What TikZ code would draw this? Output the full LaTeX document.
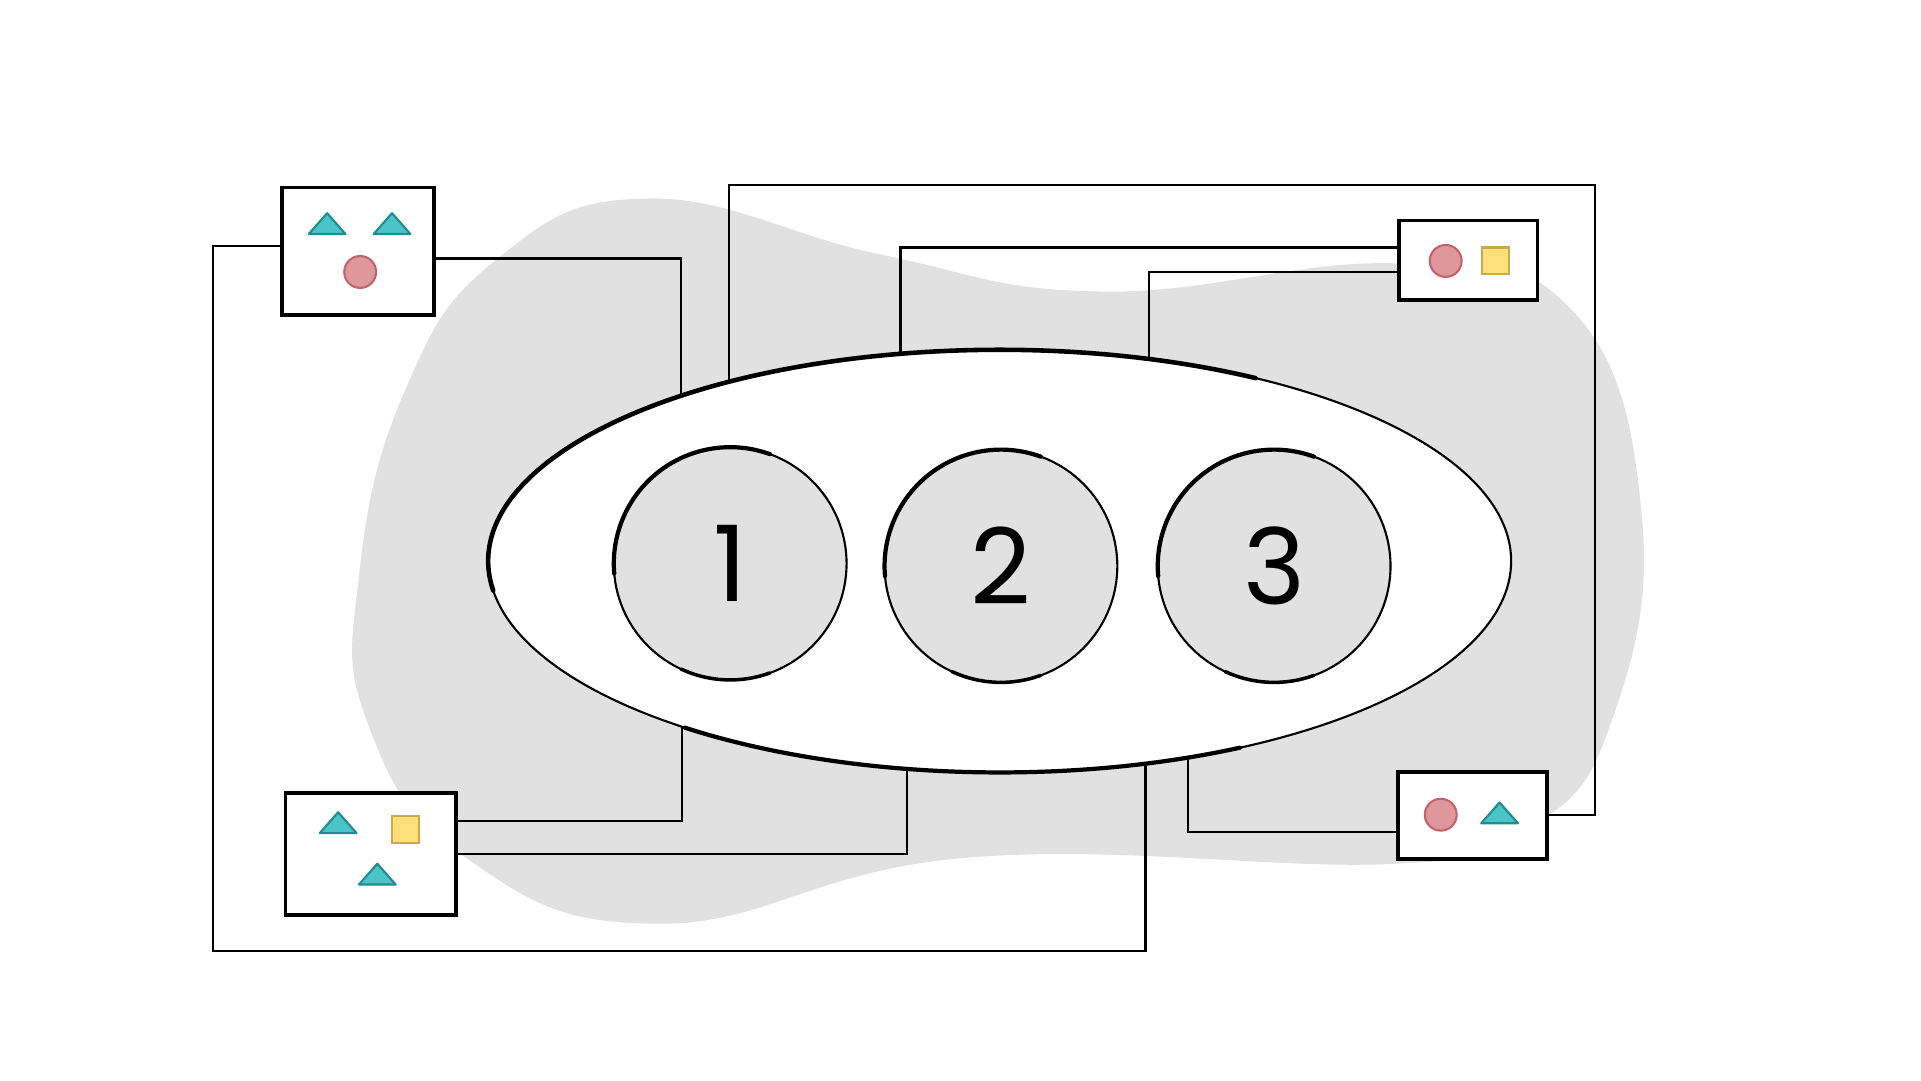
\documentclass[tikz,border=0pt]{standalone}
\usepackage{fontspec}
\setmainfont{Poppins}
\usetikzlibrary{calc,positioning,shapes.geometric}

\definecolor{blobgray}{HTML}{E1E1E1}
\definecolor{tealfill}{HTML}{4BC4C8}
\definecolor{tealedge}{HTML}{1F8C90}
\definecolor{rosefill}{HTML}{DE989B}
\definecolor{roseedge}{HTML}{C2626C}
\definecolor{sunfill}{HTML}{FFDF7A}
\definecolor{sunedge}{HTML}{C9A852}

\pgfdeclarelayer{blob}
\pgfdeclarelayer{wires}
\pgfsetlayers{blob,wires,main}

\tikzset{
	wire/.style={line width=0.6pt},
	card/.style={draw, fill=white, line width=1.1pt, inner sep=0pt},
	ring/.style={ellipse, draw, fill=white, line width=0.6pt, inner sep=0pt,
		minimum width=10.23cm, minimum height=4.227cm},
	disc/.style={circle, draw, fill=blobgray, line width=0.6pt, inner sep=0pt,
		minimum size=2.328cm, font=\fontsize{30}{36}\selectfont},
	heavy/.style={line cap=round, line width=#1},
	tri/.pic={\filldraw[fill=tealfill, draw=tealedge, line width=0.6pt, line join=round]
		(-15,8) -- (0,-9) -- (15,8) -- cycle;},
	dot/.pic={\filldraw[fill=rosefill, draw=roseedge, line width=0.6pt] (0,0) circle[radius=13];},
	sq/.pic={\filldraw[fill=sunfill, draw=sunedge, line width=0.6pt] (-11,-11) rectangle (11,11);},
}

\begin{document}
\begin{tikzpicture}[x=0.012251cm, y=-0.012251cm]
	\useasboundingbox (0,0) rectangle (1568,882);

	% fondo gris
	\begin{pgfonlayer}{blob}
		\fill[blobgray] plot[smooth cycle, tension=0.75] coordinates {
			(293,470) (330,320) (405,212) (530,162) (720,208) (900,238)
			(1140,215) (1282,252) (1340,420) (1315,590) (1250,675)
			(1140,705) (790,700) (540,754) (380,700) (300,590)};
	\end{pgfonlayer}

	% anillo
	\node[ring] (ell) at (816,458) {};
	\draw[heavy=1.3pt] ($(ell.center)+(172:417.5 and 172.5)$)
		arc[start angle=172, end angle=300, x radius=417.5, y radius=172.5];
	\draw[heavy=1.2pt] ($(ell.center)+(62:417.5 and 172.5)$)
		arc[start angle=62, end angle=128, x radius=417.5, y radius=172.5];

	% discos
	\node[disc] (c1) at (596,460) {1};
	\node[disc] (c2) at (817,462) {2};
	\node[disc] (c3) at (1040,462) {3};
	\foreach \c in {c1,c2,c3} {
		\draw[heavy=1.2pt] ($(\c.center)+(175:95)$) arc[start angle=175, end angle=290, radius=95];
		\draw[heavy=1pt] ($(\c.center)+(70:95)$) arc[start angle=70, end angle=115, radius=95];
	}

	% tarjetas
	\node[card, minimum width=1.519cm, minimum height=1.274cm] (tl) at (292,205) {};
	\node[card, minimum width=1.703cm, minimum height=1.225cm] (bl) at (302.5,697) {};
	\node[card, minimum width=1.384cm, minimum height=0.796cm] (tr) at (1198.5,212.5) {};
	\node[card, minimum width=1.495cm, minimum height=0.870cm] (br) at (1202,665.5) {};

	\pic at (267,183) {tri};
	\pic at (320,183) {tri};
	\pic at (294,222) {dot};

	\pic at (276,672) {tri};
	\pic at (331,677) {sq};
	\pic at (308,714) {tri};

	\pic at (1180,213) {dot};
	\pic at (1221,213) {sq};

	\pic at (1176,665) {dot};
	\pic at (1224,664) {tri};

	% cables
	\begin{pgfonlayer}{wires}
		\draw[wire] ($(tl.east)+(0,6)$) -| ($(ell.center)+(-260,0)$);
		\draw[wire] ($(tl.west)+(0,-4)$) -- (174,201) -- (174,776) -| ($(ell.center)+(119,0)$);
		\draw[wire] ($(ell.center)+(-221,0)$) |- (1302,151) |- (br.east);
		\draw[wire] ($(ell.center)+(-81,0)$) |- ($(tr.west)+(0,-10.5)$);
		\draw[wire] ($(ell.center)+(122,0)$) |- ($(tr.west)+(0,9.5)$);
		\draw[wire] ($(bl.east)+(0,-27)$) -| ($(ell.center)+(-259,0)$);
		\draw[wire] (bl.east) -| ($(ell.center)+(-76,0)$);
		\draw[wire] ($(br.west)+(0,13.5)$) -| ($(ell.center)+(154,0)$);
	\end{pgfonlayer}
\end{tikzpicture}
\end{document}
